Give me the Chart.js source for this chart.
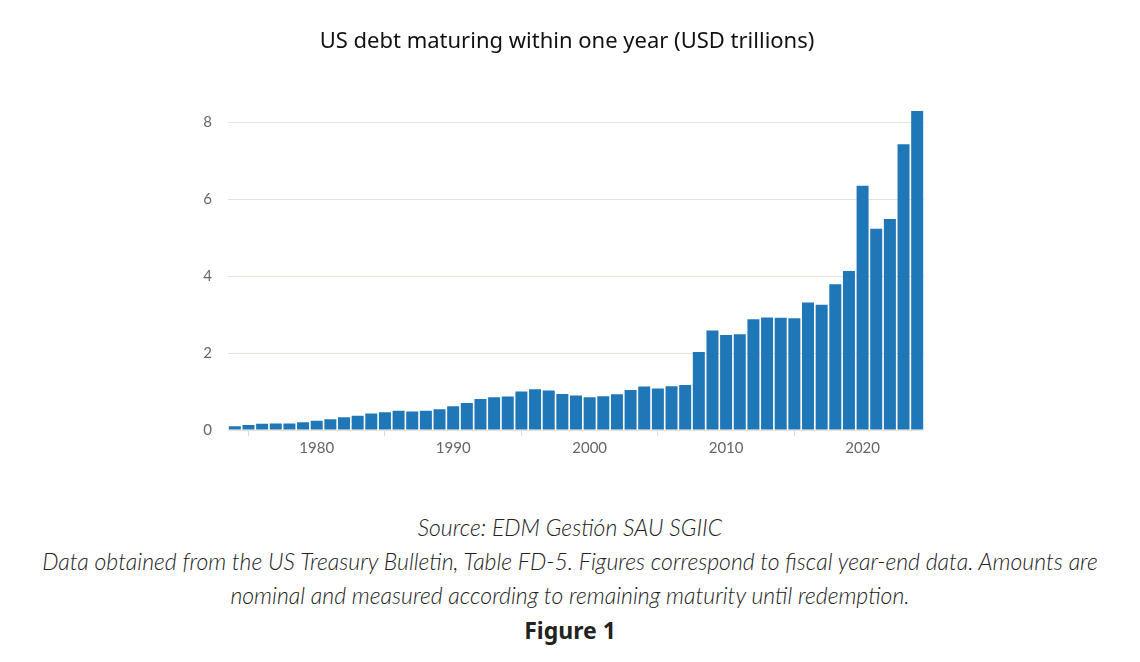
<!DOCTYPE html>
<html>
<head>
<meta charset="utf-8">
<script src="https://cdn.jsdelivr.net/npm/chart.js@4"></script>
<style>
  body { margin: 0; background: #fff; }
  #wrap { width: 1140px; height: 470px; position: relative; }
  .foot { width: 1140px; text-align: center; font-family: Lato, sans-serif; color: #222; margin-top: 40px; }
  .src { font-style: italic; font-weight: 300; font-size: 23px; line-height: 34px; }
  .fig { font-weight: bold; font-size: 23px; line-height: 36px; font-family: "Noto Sans", sans-serif; }
</style>
</head>
<body>
<div id="wrap"><canvas id="debt"></canvas></div>
<div class="foot">
  <div class="src">Source: EDM Gestión SAU SGIIC<br>Data obtained from the US Treasury Bulletin, Table FD-5. Figures correspond to fiscal year-end data. Amounts are<br>nominal and measured according to remaining maturity until redemption.</div>
  <div class="fig">Figure 1</div>
</div>
<script>
const years = [1974, 1975, 1976, 1977, 1978, 1979, 1980, 1981, 1982, 1983,
  1984, 1985, 1986, 1987, 1988, 1989, 1990, 1991, 1992, 1993,
  1994, 1995, 1996, 1997, 1998, 1999, 2000, 2001, 2002, 2003,
  2004, 2005, 2006, 2007, 2008, 2009, 2010, 2011, 2012, 2013,
  2014, 2015, 2016, 2017, 2018, 2019, 2020, 2021, 2022, 2023, 2024];
const debtShort = [0.10, 0.13, 0.16, 0.17, 0.17, 0.20, 0.24, 0.28, 0.33, 0.37,
  0.43, 0.46, 0.50, 0.48, 0.50, 0.54, 0.62, 0.70, 0.81, 0.85,
  0.87, 1.00, 1.06, 1.03, 0.94, 0.90, 0.85, 0.88, 0.93, 1.04,
  1.13, 1.08, 1.14, 1.17, 2.03, 2.59, 2.47, 2.49, 2.88, 2.93,
  2.92, 2.91, 3.32, 3.26, 3.79, 4.14, 6.36, 5.24, 5.49, 7.44, 8.30];
const yTicks = [0, 2, 4, 6, 8];

new Chart(document.getElementById('debt'), {
  type: 'bar',
  data: {
    labels: years,
    datasets: [{
      label: 'US debt maturing within one year',
      data: debtShort,
      backgroundColor: '#1f77b7',
      barPercentage: 1,
      categoryPercentage: 0.88
    }]
  },
  options: {
    responsive: true,
    maintainAspectRatio: false,
    animation: false,
    layout: { padding: { left: 186, right: 192, bottom: 10 } },
    plugins: {
      legend: { display: false },
      tooltip: { enabled: false },
      title: {
        display: true,
        text: 'US debt maturing within one year (USD trillions)',
        color: '#111',
        font: { family: 'Noto Sans', size: 22, weight: 'normal' },
        padding: { top: 29, bottom: 48 }
      }
    },
    scales: {
      x: {
        grid: { drawOnChartArea: false, color: '#e3d9cf', tickLength: 6 },
        border: { display: false },
        ticks: {
          autoSkip: false, maxRotation: 0, color: '#666', padding: 3,
          font: { family: 'Lato', size: 15 }
        },
        afterBuildTicks: (scale) => {
          scale.ticks = scale.ticks.filter(t => years[t.value] % 10 === 0);
        }
      },
      y: {
        min: 0, max: 8.5,
        grid: { color: '#ebe3da', drawTicks: false },
        border: { display: false },
        ticks: { color: '#666', padding: 16, font: { family: 'Lato', size: 15 } },
        afterBuildTicks: (scale) => {
          scale.ticks = yTicks.map(v => ({ value: v }));
        },
        afterFit: (scale) => { scale.width = 42; }
      },
      // empty right axis, only there to balance the title over the page
      yRight: {
        position: 'right',
        grid: { display: false },
        border: { display: false },
        ticks: { display: false },
        afterFit: (scale) => { scale.width = 24; }
      }
    }
  }
});
</script>
</body>
</html>
